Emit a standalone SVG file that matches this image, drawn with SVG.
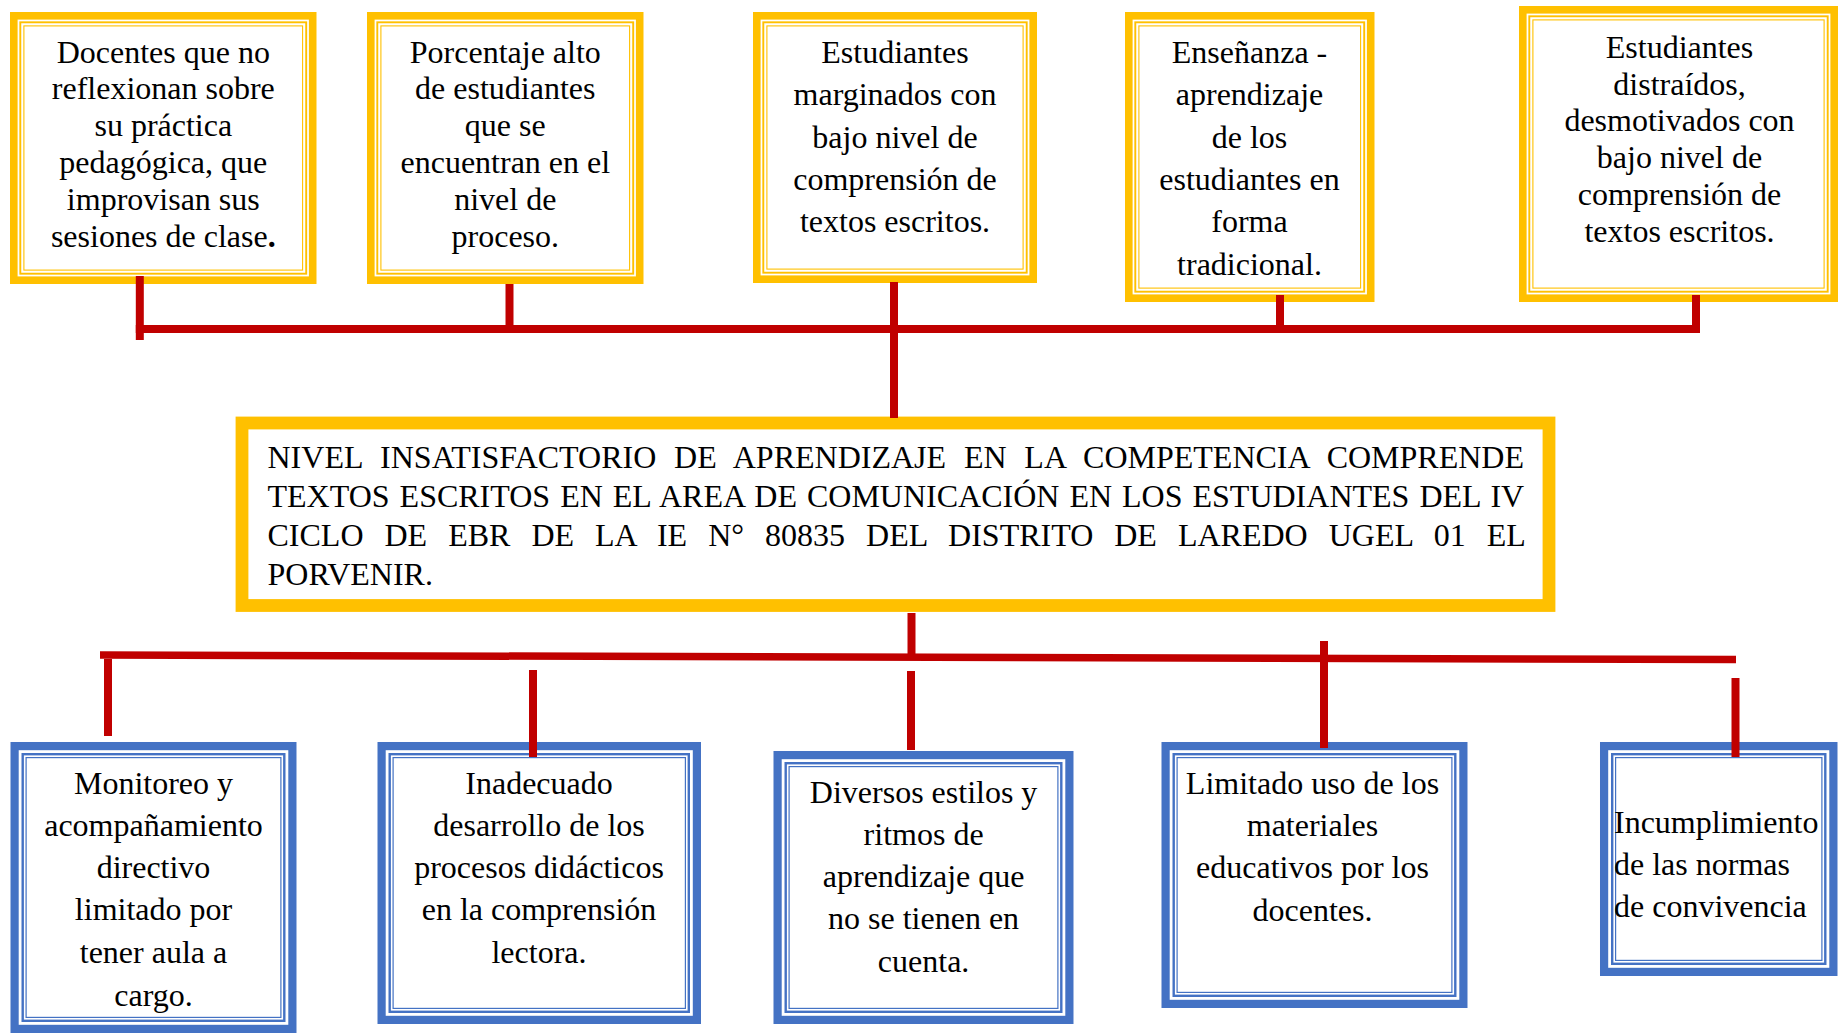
<svg xmlns="http://www.w3.org/2000/svg" width="1838" height="1034" viewBox="0 0 1838 1034">
<style>
.bg{fill:#fff}
.yo{fill:#fff;stroke:#FFC000;stroke-width:7.6}
.y1{fill:none;stroke:#FFC000;stroke-width:1.9}
.y2{fill:none;stroke:#FFC000;stroke-width:1.1}
.bo{fill:#fff;stroke:#4472C4;stroke-width:8.2}
.b1{fill:none;stroke:#4472C4;stroke-width:2.4}
.b2{fill:none;stroke:#4472C4;stroke-width:1.2}
.co{fill:#fff;stroke:#FFC000;stroke-width:12.8}
text{font-family:"Liberation Serif","Times New Roman",serif;font-size:32px;fill:#000}
.c{text-anchor:middle}
.cn line,.cn polyline{stroke:#C00000;stroke-width:8;fill:none}
</style>
<rect class="bg" x="0" y="0" width="1838" height="1034"/>

<g id="causa1">
<rect class="yo" x="13.8" y="15.8" width="298.9" height="264.4"/>
<rect class="y1" x="20.3" y="22.3" width="285.9" height="251.4"/>
<rect class="y2" x="23.9" y="25.9" width="278.7" height="244.2"/>
<text class="c"><tspan x="163.3" y="62.5">Docentes que no</tspan><tspan x="163.3" y="99.3">reflexionan sobre</tspan><tspan x="163.3" y="136.1">su práctica</tspan><tspan x="163.3" y="172.9">pedagógica, que</tspan><tspan x="163.3" y="209.7">improvisan sus</tspan><tspan x="163.3" y="246.5">sesiones de clase<tspan font-weight="bold">.</tspan></tspan></text>
</g>

<g id="causa2">
<rect class="yo" x="370.8" y="15.8" width="268.9" height="264.4"/>
<rect class="y1" x="377.3" y="22.3" width="255.9" height="251.4"/>
<rect class="y2" x="380.9" y="25.9" width="248.7" height="244.2"/>
<text class="c"><tspan x="505.3" y="62.5">Porcentaje alto</tspan><tspan x="505.3" y="99.3">de estudiantes</tspan><tspan x="505.3" y="136.1">que se</tspan><tspan x="505.3" y="172.9">encuentran en el</tspan><tspan x="505.3" y="209.7">nivel de</tspan><tspan x="505.3" y="246.5">proceso.</tspan></text>
</g>

<g id="causa3">
<rect class="yo" x="756.8" y="15.8" width="276.4" height="263.4"/>
<rect class="y1" x="763.3" y="22.3" width="263.4" height="250.4"/>
<rect class="y2" x="766.9" y="25.9" width="256.2" height="243.2"/>
<text class="c"><tspan x="895" y="63">Estudiantes</tspan><tspan x="895" y="105">marginados con</tspan><tspan x="895" y="147.5">bajo nivel de</tspan><tspan x="895" y="190">comprensión de</tspan><tspan x="895" y="232">textos escritos.</tspan></text>
</g>

<g id="causa4">
<rect class="yo" x="1128.8" y="15.8" width="241.9" height="282.4"/>
<rect class="y1" x="1135.3" y="22.3" width="228.9" height="269.4"/>
<rect class="y2" x="1138.9" y="25.9" width="221.7" height="262.2"/>
<text class="c"><tspan x="1249.5" y="63">Enseñanza -</tspan><tspan x="1249.5" y="105">aprendizaje</tspan><tspan x="1249.5" y="147.5">de los</tspan><tspan x="1249.5" y="190">estudiantes en</tspan><tspan x="1249.5" y="232">forma</tspan><tspan x="1249.5" y="274.5">tradicional.</tspan></text>
</g>

<g id="causa5">
<rect class="yo" x="1522.8" y="9.8" width="311.4" height="288.4"/>
<rect class="y1" x="1529.3" y="16.3" width="298.4" height="275.4"/>
<rect class="y2" x="1532.9" y="19.9" width="291.2" height="268.2"/>
<text class="c"><tspan x="1679.5" y="57.5">Estudiantes</tspan><tspan x="1679.5" y="94.5">distraídos,</tspan><tspan x="1679.5" y="131">desmotivados con</tspan><tspan x="1679.5" y="168">bajo nivel de</tspan><tspan x="1679.5" y="205">comprensión de</tspan><tspan x="1679.5" y="242">textos escritos.</tspan></text>
</g>

<g id="problema">
<rect class="co" x="242" y="423" width="1307" height="182.5"/>
<text><tspan x="267.5" y="467.5" word-spacing="9.8">NIVEL INSATISFACTORIO DE APRENDIZAJE EN LA COMPETENCIA COMPRENDE</tspan><tspan x="267.5" y="506.5" word-spacing="2">TEXTOS ESCRITOS EN EL AREA DE COMUNICACIÓN EN LOS ESTUDIANTES DEL IV</tspan><tspan x="267.5" y="545.5" word-spacing="13">CICLO DE EBR DE LA IE N° 80835 DEL DISTRITO DE LAREDO UGEL 01 EL</tspan><tspan x="267.5" y="584.5">PORVENIR.</tspan></text>
</g>

<g id="efecto1">
<rect class="bo" x="14.6" y="746.1" width="277.8" height="282.8"/>
<rect class="b1" x="22.7" y="754.2" width="261.6" height="266.6"/>
<rect class="b2" x="26.1" y="757.6" width="254.8" height="259.8"/>
<text class="c"><tspan x="153.5" y="794">Monitoreo y</tspan><tspan x="153.5" y="836">acompañamiento</tspan><tspan x="153.5" y="878">directivo</tspan><tspan x="153.5" y="920">limitado por</tspan><tspan x="153.5" y="962.5">tener aula a</tspan><tspan x="153.5" y="1006">cargo.</tspan></text>
</g>

<g id="efecto2">
<rect class="bo" x="381.6" y="746.1" width="315.3" height="273.8"/>
<rect class="b1" x="389.7" y="754.2" width="299.1" height="257.6"/>
<rect class="b2" x="393.1" y="757.6" width="292.3" height="250.8"/>
<text class="c"><tspan x="539" y="794">Inadecuado</tspan><tspan x="539" y="836">desarrollo de los</tspan><tspan x="539" y="878">procesos didácticos</tspan><tspan x="539" y="920">en la comprensión</tspan><tspan x="539" y="962.5">lectora.</tspan></text>
</g>

<g id="efecto3">
<rect class="bo" x="777.6" y="755.1" width="291.8" height="264.8"/>
<rect class="b1" x="785.7" y="763.2" width="275.6" height="248.6"/>
<rect class="b2" x="789.1" y="766.6" width="268.8" height="241.8"/>
<text class="c"><tspan x="923.6" y="802.5">Diversos estilos y</tspan><tspan x="923.6" y="845">ritmos de</tspan><tspan x="923.6" y="886.5">aprendizaje que</tspan><tspan x="923.6" y="929">no se tienen en</tspan><tspan x="923.6" y="971.5">cuenta.</tspan></text>
</g>

<g id="efecto4">
<rect class="bo" x="1165.6" y="746.1" width="297.8" height="257.8"/>
<rect class="b1" x="1173.7" y="754.2" width="281.6" height="241.6"/>
<rect class="b2" x="1177.1" y="757.6" width="274.8" height="234.8"/>
<text class="c"><tspan x="1312.5" y="794">Limitado uso de los</tspan><tspan x="1312.5" y="836">materiales</tspan><tspan x="1312.5" y="878">educativos por los</tspan><tspan x="1312.5" y="921">docentes.</tspan></text>
</g>

<g id="efecto5">
<rect class="bo" x="1604.1" y="746.1" width="229.3" height="225.8"/>
<rect class="b1" x="1612.2" y="754.2" width="213.1" height="209.6"/>
<rect class="b2" x="1615.6" y="757.6" width="206.3" height="202.8"/>
<text><tspan x="1614" y="833">Incumplimiento</tspan><tspan x="1614" y="875">de las normas</tspan><tspan x="1614" y="916.5">de convivencia</tspan></text>
</g>

<g id="connectors" class="cn">
<line x1="135.8" y1="329" x2="1700" y2="329"/>
<line x1="139.8" y1="276" x2="139.8" y2="340"/>
<line x1="509.5" y1="284" x2="509.5" y2="329"/>
<line x1="894" y1="282" x2="894" y2="418"/>
<line x1="1280" y1="295" x2="1280" y2="333"/>
<line x1="1696" y1="295" x2="1696" y2="333"/>
<line x1="911.5" y1="613" x2="911.5" y2="656"/>
<line x1="100" y1="655" x2="1736" y2="659.5" style="stroke-width:7.5"/>
<line x1="108" y1="659" x2="108" y2="736"/>
<line x1="533" y1="670" x2="533" y2="757"/>
<line x1="911" y1="671" x2="911" y2="750"/>
<line x1="1324" y1="641" x2="1324" y2="748"/>
<line x1="1735.5" y1="678" x2="1735.5" y2="757"/>
</g>
</svg>
